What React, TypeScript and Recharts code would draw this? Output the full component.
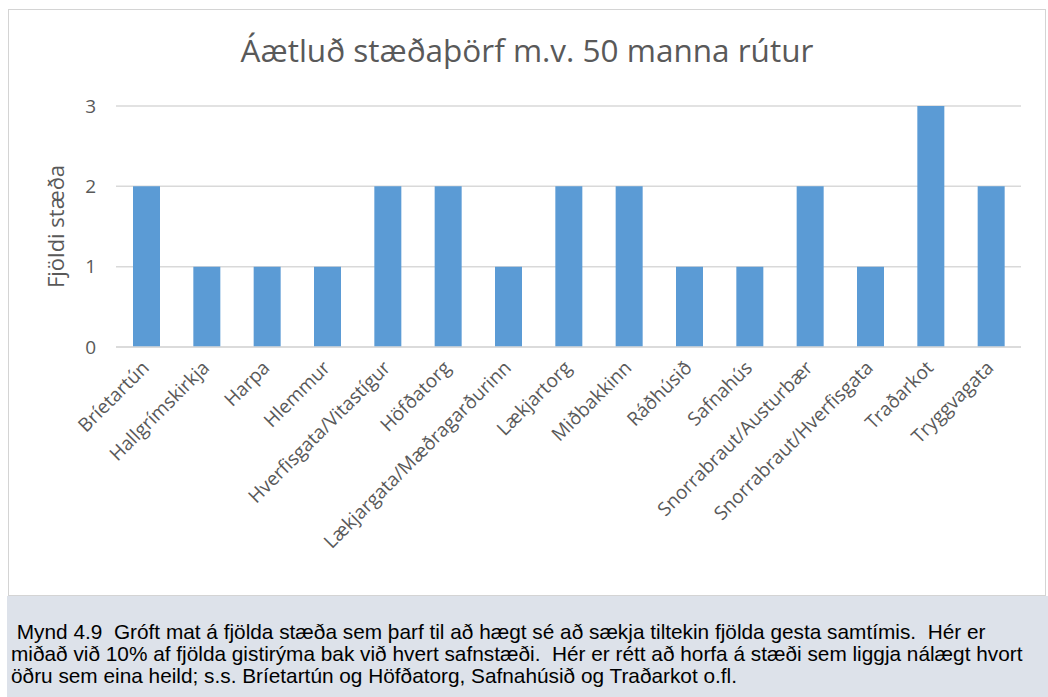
import React from "react";
import { BarChart, Bar, XAxis, YAxis, CartesianGrid } from "recharts";

const places = [
  "Bríetartún",
  "Hallgrímskirkja",
  "Harpa",
  "Hlemmur",
  "Hverfisgata/Vitastígur",
  "Höfðatorg",
  "Lækjargata/Mæðragarðurinn",
  "Lækjartorg",
  "Miðbakkinn",
  "Ráðhúsið",
  "Safnahús",
  "Snorrabraut/Austurbær",
  "Snorrabraut/Hverfisgata",
  "Traðarkot",
  "Tryggvagata",
];
const spaces = [2, 1, 1, 1, 2, 2, 1, 2, 2, 1, 1, 2, 1, 3, 2];
const yTicks = [0, 1, 2, 3];

const data = places.map((name, i) => ({ name, value: spaces[i] }));

const FONT = "'Open Sans', 'Noto Sans', sans-serif";

const SlantTick = (props: any) => {
  const { x, y, payload } = props;
  return (
    <text
      x={x + 4}
      y={y + 14}
      textAnchor="end"
      fontSize={19}
      fontFamily={FONT}
      fill="#595959"
      transform={`rotate(-45, ${x + 4}, ${y + 14})`}
    >
      {payload.value}
    </text>
  );
};

export default function App() {
  return (
    <div
      style={{
        position: "absolute",
        left: 0,
        top: 0,
        width: 1048,
        height: 697,
        background: "#ffffff",
        overflow: "hidden",
      }}
    >
      <div
        style={{
          position: "absolute",
          left: 8,
          top: 9,
          width: 1036,
          height: 585,
          border: "1px solid #d4d4d4",
          background: "#ffffff",
        }}
      >
        <div
          style={{
            position: "absolute",
            left: 0,
            top: 18,
            width: "100%",
            textAlign: "center",
            fontFamily: FONT,
            fontSize: 31.5,
            color: "#595959",
          }}
        >
          Áætluð stæðaþörf m.v. 50 manna rútur
        </div>
        <BarChart
          width={1036}
          height={585}
          data={data}
          margin={{ top: 96, right: 24, bottom: 8, left: 47 }}
        >
          <CartesianGrid vertical={false} stroke="#d9d9d9" strokeWidth={1.5} />
          <XAxis
            dataKey="name"
            interval={0}
            height={240}
            tickLine={false}
            axisLine={{ stroke: "#d9d9d9", strokeWidth: 1.5 }}
            tick={<SlantTick />}
          />
          <YAxis
            domain={[0, 3]}
            ticks={yTicks}
            width={60}
            axisLine={false}
            tickLine={false}
            tickMargin={14}
            tick={{ fontSize: 19, fill: "#595959", fontFamily: FONT }}
            label={{
              value: "Fjöldi stæða",
              angle: -90,
              position: "insideLeft",
              offset: 0,
              style: {
                fontSize: 22,
                fill: "#595959",
                fontFamily: FONT,
                textAnchor: "middle",
              },
            }}
          />
          <Bar dataKey="value" fill="#5b9bd5" barSize={27} isAnimationActive={false} />
        </BarChart>
      </div>
      <div
        style={{
          position: "absolute",
          left: 7,
          top: 596,
          width: 1041,
          height: 101,
          background: "#dde2ea",
        }}
      >
        <div
          style={{
            position: "absolute",
            left: 4,
            top: 25,
            width: 1036,
            fontFamily: "'Liberation Sans', Arial, sans-serif",
            fontSize: 20.8,
            lineHeight: "22px",
            color: "#000000",
            whiteSpace: "nowrap",
          }}
        >
          {"\u00a0"}Mynd 4.9{"\u00a0\u00a0"}Gróft mat á fjölda stæða sem þarf til að hægt sé að sækja tiltekin fjölda gesta samtímis.{"\u00a0\u00a0"}Hér er
          <br />
          miðað við 10% af fjölda gistirýma bak við hvert safnstæði.{"\u00a0\u00a0"}Hér er rétt að horfa á stæði sem liggja nálægt hvort
          <br />
          öðru sem eina heild; s.s. Bríetartún og Höfðatorg, Safnahúsið og Traðarkot o.fl.
        </div>
      </div>
    </div>
  );
}
